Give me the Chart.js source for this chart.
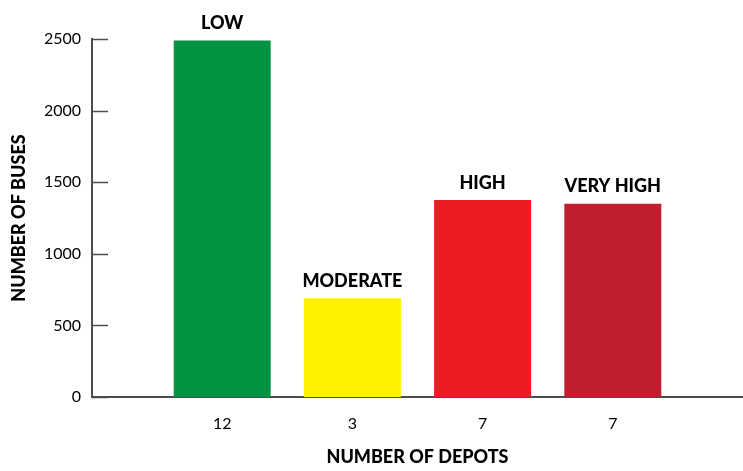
<!DOCTYPE html>
<html>
<head>
<meta charset="utf-8">
<script src="https://cdn.jsdelivr.net/npm/chart.js@4.4.1/dist/chart.umd.min.js"></script>
<style>
  html, body { margin: 0; padding: 0; background: #fff; }
  #wrap { width: 743px; height: 471px; }
</style>
</head>
<body>
<div id="wrap"><canvas id="myChart"></canvas></div>
<script>
// blank slots at both ends so the bars sit one step in from the axis ends
const depots = ['', '12', '3', '7', '7', ''];
const buses = [null, 2490, 690, 1375, 1350, null];
const levels = ['', 'LOW', 'MODERATE', 'HIGH', 'VERY HIGH', ''];
const barColors = ['#fff', '#039443', '#fff200', '#ed1c24', '#be1e2d', '#fff'];
const yTicks = [0, 500, 1000, 1500, 2000, 2500];

const axisColor = '#4d4d4d';
const fontFam = 'Lato, "DejaVu Sans", sans-serif';

const barLabels = {
  id: 'barLabels',
  afterDatasetsDraw(chart) {
    const ctx = chart.ctx;
    const meta = chart.getDatasetMeta(0);
    ctx.save();
    ctx.font = `900 18px ${fontFam}`;
    ctx.fillStyle = '#000';
    ctx.textAlign = 'center';
    ctx.textBaseline = 'middle';
    meta.data.forEach((bar, i) => {
      if (buses[i] == null) return;
      ctx.fillText(levels[i], bar.x, bar.y - 17);
    });
    ctx.restore();
  }
};

// short tick marks pointing into the plot from the y axis
const innerTicks = {
  id: 'innerTicks',
  afterDraw(chart) {
    const ctx = chart.ctx;
    const y = chart.scales.y;
    ctx.save();
    ctx.strokeStyle = axisColor;
    ctx.lineWidth = 1.5;
    yTicks.forEach(v => {
      const py = Math.round(y.getPixelForValue(v)) + 0.5;
      ctx.beginPath();
      ctx.moveTo(y.right, py);
      ctx.lineTo(y.right + 16, py);
      ctx.stroke();
    });
    ctx.restore();
  }
};

new Chart(document.getElementById('myChart'), {
  type: 'bar',
  plugins: [barLabels, innerTicks],
  data: {
    labels: depots,
    datasets: [{
      data: buses,
      backgroundColor: barColors,
      barPercentage: 0.745,
      categoryPercentage: 1
    }]
  },
  options: {
    responsive: true,
    maintainAspectRatio: false,
    animation: false,
    layout: { padding: { top: 39, right: 0, bottom: 0, left: 0 } },
    plugins: {
      legend: { display: false },
      tooltip: { enabled: false }
    },
    scales: {
      x: {
        offset: false,
        grid: { display: false, drawTicks: false },
        border: { display: true, color: axisColor, width: 2 },
        ticks: {
          padding: 17,
          color: '#000',
          maxRotation: 0,
          autoSkip: false,
          font: { family: fontFam, size: 16 }
        },
        title: {
          display: true,
          text: 'NUMBER OF DEPOTS',
          color: '#000',
          font: { family: fontFam, size: 18, weight: 900 },
          padding: { top: 0, bottom: 3 }
        },
        afterFit: s => {
          s.height = 74;
          s.paddingLeft = 0;
          s.paddingRight = 0;
        }
      },
      y: {
        min: 0,
        max: 2500,
        afterBuildTicks: s => { s.ticks = yTicks.map(v => ({ value: v })); },
        grid: { display: false, drawTicks: false },
        border: { display: true, color: axisColor, width: 2 },
        ticks: {
          padding: 11,
          color: '#000',
          font: { family: fontFam, size: 16 },
          callback: v => String(v)
        },
        title: {
          display: true,
          text: 'NUMBER OF BUSES',
          color: '#000',
          font: { family: fontFam, size: 18, weight: 900 },
          padding: { top: 8, bottom: 0 }
        },
        afterFit: s => { s.width = 92; }
      }
    }
  }
});
</script>
</body>
</html>
